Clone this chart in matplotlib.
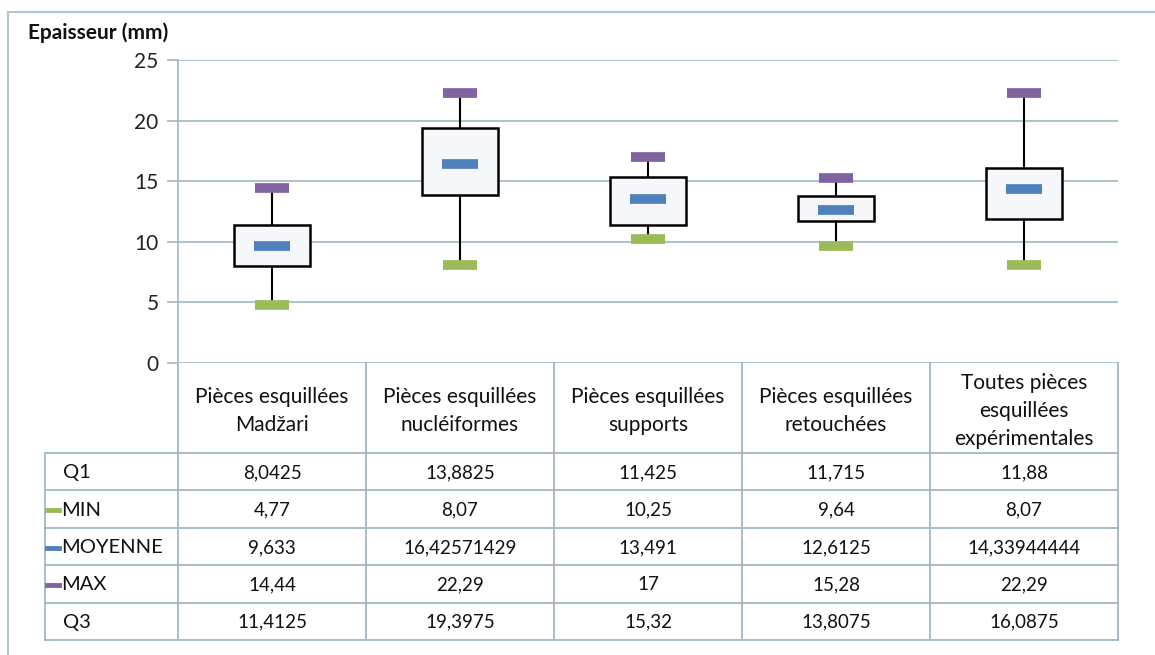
import matplotlib.pyplot as plt
from matplotlib.lines import Line2D
from matplotlib.patches import Rectangle

categories = ["Pièces esquillées\nMadžari", "Pièces esquillées\nnucléiformes",
              "Pièces esquillées\nsupports", "Pièces esquillées\nretouchées",
              "Toutes pièces\nesquillées\nexpérimentales"]
q1 = [8.0425, 13.8825, 11.425, 11.715, 11.88]
vmin = [4.77, 8.07, 10.25, 9.64, 8.07]
moyenne = [9.633, 16.42571429, 13.491, 12.6125, 14.33944444]
vmax = [14.44, 22.29, 17, 15.28, 22.29]
q3 = [11.4125, 19.3975, 15.32, 13.8075, 16.0875]
yticks = [0, 5, 10, 15, 20, 25]

C_MIN = "#9bbb59"
C_MOY = "#4f81bd"
C_MAX = "#8064a2"
GRID = "#9fb8c4"
FONT = "Lato"

W, H = 1155, 655
fig = plt.figure(figsize=(W / 100, H / 100), dpi=100)
plt.rcParams["font.family"] = [FONT, "DejaVu Sans"]


def fx(x):
    return x / W


def fy(y):
    return 1 - y / H


# plot area in pixel coordinates
L, R, T, B = 178, 1118, 60, 363
ax = fig.add_axes([fx(L), fy(B), fx(R - L), (B - T) / H])
n = len(categories)
xs = list(range(n))
ax.set_xlim(-0.5, n - 0.5)
ax.set_ylim(0, 25)
ax.set_yticks(yticks)
ax.set_yticklabels([str(t) for t in yticks], fontsize=15, color="#222222")
ax.set_xticks([])
for t in yticks:
    ax.axhline(t, color=GRID, lw=1.2, zorder=0)
for s in ["top", "right", "bottom"]:
    ax.spines[s].set_visible(False)
ax.spines["left"].set_color(GRID)
ax.spines["left"].set_linewidth(1.2)
ax.tick_params(axis="y", length=8, width=1.2, color=GRID, pad=6)

# whiskers
ax.vlines(xs, vmin, q1, color="black", lw=1.5, zorder=2)
ax.vlines(xs, q3, vmax, color="black", lw=1.5, zorder=2)
# boxes Q1-Q3
heights = [b - a for a, b in zip(q1, q3)]
ax.bar(xs, heights, bottom=q1, width=0.4, color="#f5f7fa", edgecolor="black",
       linewidth=1.8, zorder=3)
# markers
hw = 0.09
ax.hlines(vmin, [x - hw for x in xs], [x + hw for x in xs], color=C_MIN, lw=7, zorder=4)
ax.hlines(vmax, [x - hw for x in xs], [x + hw for x in xs], color=C_MAX, lw=7, zorder=4)
ax.hlines(moyenne, [x - 0.095 for x in xs], [x + 0.095 for x in xs], color=C_MOY, lw=7, zorder=4)

fig.text(fx(28), fy(33), "Epaisseur (mm)", fontsize=15, fontweight="bold",
         ha="left", va="center", color="#111111")

# figure border
fig.add_artist(Rectangle((fx(8), fy(700)), fx(1200), (700 - 12) / H,
                         transform=fig.transFigure, fill=False,
                         edgecolor="#b0c4ce", lw=1.5))


# data table below the plot
def fmt(v):
    s = f"{v:.8f}".rstrip("0").rstrip(".")
    return s.replace(".", ",")


col_w = (R - L) / n
row_h = 37.4
head_bottom = 453
rows = [("Q1", q1, None), ("MIN", vmin, C_MIN), ("MOYENNE", moyenne, C_MOY),
        ("MAX", vmax, C_MAX), ("Q3", q3, None)]
TL = 45


def hline(x0, x1, y):
    fig.add_artist(Line2D([fx(x0), fx(x1)], [fy(y), fy(y)], color=GRID, lw=1.3,
                          transform=fig.transFigure))


def vline(x, y0, y1):
    fig.add_artist(Line2D([fx(x), fx(x)], [fy(y0), fy(y1)], color=GRID, lw=1.3,
                          transform=fig.transFigure))


bottom = head_bottom + row_h * len(rows)
for i in range(n + 1):
    vline(L + i * col_w, B, bottom)
vline(TL, head_bottom, bottom)
for j in range(len(rows) + 1):
    hline(TL, R, head_bottom + j * row_h)

for i, c in enumerate(categories):
    fig.text(fx(L + (i + 0.5) * col_w), fy((B + head_bottom) / 2 + 3), c,
             ha="center", va="center", fontsize=15, linespacing=1.5, color="#111111")

for j, (name, vals, col) in enumerate(rows):
    yc = head_bottom + (j + 0.5) * row_h + 1
    if col is None:
        fig.text(fx(63), fy(yc), name, ha="left", va="center", fontsize=14.5, color="#111111")
    else:
        fig.add_artist(Line2D([fx(47), fx(59)], [fy(yc), fy(yc)], color=col, lw=3.5,
                              transform=fig.transFigure))
        fig.text(fx(61), fy(yc), name, ha="left", va="center", fontsize=14.5, color="#111111")
    for i, v in enumerate(vals):
        fig.text(fx(L + (i + 0.5) * col_w), fy(yc), fmt(v), ha="center", va="center",
                 fontsize=13.5, color="#111111")

fig.savefig("out.png", dpi=100)
